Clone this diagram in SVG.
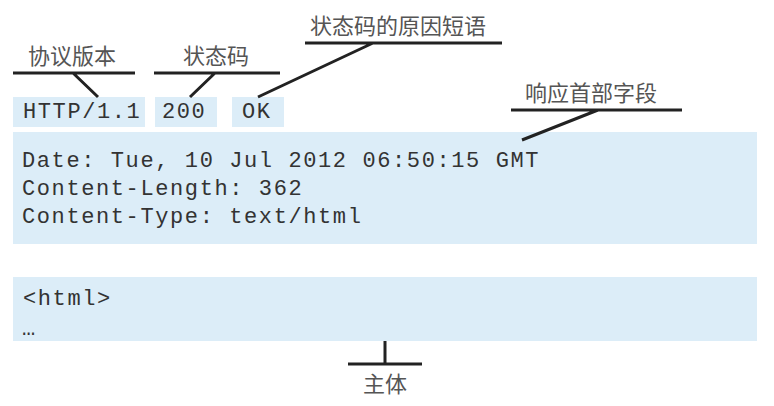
<svg xmlns="http://www.w3.org/2000/svg" width="774" height="406" viewBox="0 0 774 406">
<style>
.box{fill:#dcedf8}
.mono{font-family:"Liberation Mono","Courier New",monospace;font-size:22px;fill:#333;letter-spacing:1.6px}
.lbl{font-family:"Noto Sans CJK SC","Noto Sans",sans-serif;font-size:22px;fill:#555}
.ln{stroke:#222;stroke-width:3;fill:none;stroke-linecap:butt}
</style>
<rect width="774" height="406" fill="#ffffff"/>
<g id="version">
<rect class="box" x="13" y="97" width="132" height="30"/>
<text class="mono" x="23" y="118">HTTP/1.1</text>
</g>
<g id="status-code">
<rect class="box" x="155" y="97" width="62" height="30"/>
<text class="mono" x="162" y="118">200</text>
</g>
<g id="reason">
<rect class="box" x="232" y="97" width="52" height="30"/>
<text class="mono" x="242" y="118">OK</text>
</g>
<g id="headers">
<rect class="box" x="13" y="132" width="744" height="112"/>
<text class="mono" x="22" y="167">Date: Tue, 10 Jul 2012 06:50:15 GMT</text>
<text class="mono" x="22" y="195">Content-Length: 362</text>
<text class="mono" x="22" y="223">Content-Type: text/html</text>
</g>
<g id="body">
<rect class="box" x="13" y="277" width="744" height="64"/>
<text class="mono" x="23" y="305">&lt;html&gt;</text>
<text class="mono" x="22" y="335">…</text>
</g>
<g id="label-version"><text class="lbl" x="28" y="64">协议版本</text></g>
<g id="label-status"><text class="lbl" x="183" y="64">状态码</text></g>
<g id="label-reason"><text class="lbl" x="310" y="34">状态码的原因短语</text></g>
<g id="label-headers"><text class="lbl" x="525" y="101">响应首部字段</text></g>
<g id="label-body"><text class="lbl" x="363" y="392">主体</text></g>
<g id="connectors">
<path class="ln" d="M13 73H135M73 73L98 97"/>
<path class="ln" d="M154 73H280M215 73L190 97"/>
<path class="ln" d="M305 43H502M373 43L258 97"/>
<path class="ln" d="M511 110H682M598 110L522 140"/>
<path class="ln" d="M385 341V364M348 364H422"/>
</g>
</svg>
